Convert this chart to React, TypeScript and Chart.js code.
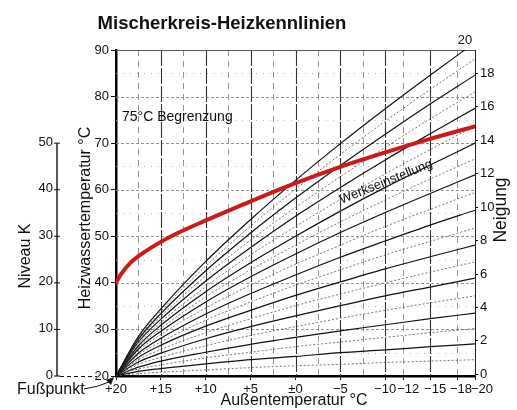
import React, { useEffect, useRef } from 'react';
import { Chart, registerables } from 'chart.js';

Chart.register(...registerables);

const FONT = '"Liberation Sans", Arial, Helvetica, sans-serif';

// Outside temperature sample points (°C) for the heating curves
const outsideTemps = [20, 17.5, 15, 10, 5, 0, -5, -10, -15, -20];

// Neigung (slope) of every heating curve
const neigungLevels = [1, 2, 3, 4, 5, 6, 7, 8, 9, 10, 11, 12, 13, 14, 15, 16, 17, 18, 19, 20];

// Heating water temperature (°C) of each curve at outsideTemps
const curveValues = [
  [20, 20.5, 20.8, 21.3, 21.8, 22.2, 22.5, 22.9, 23.2, 23.5],
  [20, 21.0, 21.6, 22.6, 23.5, 24.2, 25.0, 25.6, 26.3, 26.9],
  [20, 21.5, 22.4, 23.9, 25.1, 26.3, 27.3, 28.3, 29.3, 30.2],
  [20, 21.9, 23.2, 25.1, 26.8, 28.3, 29.7, 31.0, 32.3, 33.5],
  [20, 22.5, 24.0, 26.5, 28.7, 30.6, 32.4, 34.1, 35.7, 37.2],
  [20, 23.0, 24.9, 28.0, 30.6, 32.9, 35.1, 37.2, 39.1, 41.0],
  [20, 23.5, 25.7, 29.3, 32.3, 35.1, 37.6, 40.0, 42.3, 44.5],
  [20, 24.0, 26.6, 30.7, 34.1, 37.3, 40.2, 43.0, 45.6, 48.1],
  [20, 24.5, 27.3, 32.0, 35.9, 39.5, 42.8, 46.0, 48.9, 51.8],
  [20, 24.9, 28.1, 33.3, 37.7, 41.7, 45.5, 49.0, 52.4, 55.6],
  [20, 25.4, 28.9, 34.6, 39.5, 44.0, 48.1, 52.1, 55.8, 59.4],
  [20, 25.8, 29.6, 35.9, 41.3, 46.2, 50.8, 55.1, 59.2, 63.2],
  [20, 26.2, 30.2, 37.0, 42.8, 48.1, 53.1, 57.8, 62.3, 66.6],
  [20, 26.5, 30.9, 38.1, 44.3, 50.0, 55.4, 60.5, 65.3, 70.0],
  [20, 26.9, 31.5, 39.2, 46.0, 52.1, 57.9, 63.4, 68.6, 73.7],
  [20, 27.3, 32.2, 40.4, 47.6, 54.3, 60.5, 66.4, 72.0, 77.5],
  [20, 27.6, 32.8, 41.5, 49.2, 56.2, 62.8, 69.1, 75.2, 81.0],
  [20, 27.9, 33.4, 42.6, 50.7, 58.2, 65.2, 71.9, 78.4, 84.6],
  [20, 28.2, 33.9, 43.6, 52.2, 60.1, 67.6, 74.7, 81.5, 88.1],
  [20, 28.5, 34.4, 44.6, 53.6, 62.0, 69.9, 77.4, 84.6, 91.6],
];

// Factory setting curve (Werkseinstellung), red
const redTemps = [20, 19.5, 18.4, 17, 15, 13, 10, 5, 0, -5, -10, -15, -20];
const redValues = [40.0, 41.7, 44.3, 46.4, 48.8, 50.8, 53.4, 57.5, 61.4, 64.9, 68.0, 70.9, 73.6];

// Axis ticks
const xTickValues = [20, 15, 10, 5, 0, -5, -10, -12, -15, -18, -20];
const neigungTicks = [0, 2, 4, 6, 8, 10, 12, 14, 16, 18];
const neigungTopLabel = 20;
const niveauTicks = [0, 10, 20, 30, 40, 50];
const fusspunktTemp = 20;

// Grid lines
const gridXMajor = [15, 10, 5, 0, -5, -10, -15];
const gridXMinor = [17.5, 12.5, 7.5, 2.5, -2.5, -7.5, -12, -18];
const gridYMajor = [30, 40, 50, 60, 70, 80];
const gridYMinor = [25, 35, 45, 55, 65, 75, 85];

// small label nudges (style only) for the crowded x labels
const xLabelNudge: Record<string, number> = { '-12': 5, '-15': 5, '-18': 4, '-20': 7 };

const fmtX = (v: number) => (v > 0 ? '+' + v : v === 0 ? '±0' : '\u2212' + -v);

const decorPlugin = {
  id: 'decor',
  beforeDatasetsDraw(chart: any) {
    const { ctx, chartArea: a, scales } = chart;
    const xs = scales.x;
    const ys = scales.y;
    ctx.save();
    ctx.beginPath();
    ctx.rect(a.left, a.top, a.right - a.left, a.bottom - a.top);
    ctx.clip();
    const hline = (v: number, c: string, w: number, d: number[]) => {
      const p = Math.round(ys.getPixelForValue(v)) + 0.5;
      ctx.strokeStyle = c;
      ctx.lineWidth = w;
      ctx.setLineDash(d);
      ctx.beginPath();
      ctx.moveTo(a.left, p);
      ctx.lineTo(a.right, p);
      ctx.stroke();
    };
    const vline = (v: number, c: string, w: number, d: number[]) => {
      const p = Math.round(xs.getPixelForValue(v)) + 0.5;
      ctx.strokeStyle = c;
      ctx.lineWidth = w;
      ctx.setLineDash(d);
      ctx.beginPath();
      ctx.moveTo(p, a.top);
      ctx.lineTo(p, a.bottom);
      ctx.stroke();
    };
    gridYMinor.forEach((v) => hline(v, '#a8a8a8', 0.8, [1, 6]));
    gridYMajor.forEach((v) => hline(v, '#8a8a8a', 0.9, [3, 2]));
    gridXMinor.forEach((v) => vline(v, '#8a8a8a', 0.9, [6, 5]));
    gridXMajor.forEach((v) => vline(v, '#333333', 1.1, [16, 2]));
    ctx.restore();

    // top border
    ctx.save();
    ctx.strokeStyle = '#555';
    ctx.lineWidth = 1;
    ctx.beginPath();
    ctx.moveTo(a.left, a.top + 0.5);
    ctx.lineTo(a.right, a.top + 0.5);
    ctx.stroke();
    ctx.restore();
  },
  afterDraw(chart: any) {
    const { ctx, scales } = chart;
    const xs = scales.x;
    const ys = scales.y;
    const y2 = scales.y2;
    ctx.save();
    ctx.fillStyle = '#111';
    ctx.strokeStyle = '#111';

    // Title
    ctx.font = `bold 18.5px ${FONT}`;
    ctx.textAlign = 'center';
    ctx.textBaseline = 'alphabetic';
    ctx.fillText('Mischerkreis-Heizkennlinien', 222, 29);

    // x tick labels
    ctx.font = `13px ${FONT}`;
    ctx.textBaseline = 'middle';
    xTickValues.forEach((v) => {
      const px = xs.getPixelForValue(v) + (xLabelNudge[String(v)] || 0);
      ctx.fillText(fmtX(v), px, 389);
    });

    // x title
    ctx.font = `16px ${FONT}`;
    ctx.textBaseline = 'alphabetic';
    ctx.fillText('Außentemperatur °C', 294, 405);

    // Neigung top label (end of curve 20)
    ctx.font = `13px ${FONT}`;
    ctx.textBaseline = 'middle';
    ctx.fillText(String(neigungTopLabel), 465, y2.getPixelForValue(neigungTopLabel));

    // Rotated axis titles
    const rot = (text: string, x: number, y: number, size: number) => {
      ctx.save();
      ctx.translate(x, y);
      ctx.rotate(-Math.PI / 2);
      ctx.font = `${size}px ${FONT}`;
      ctx.textAlign = 'center';
      ctx.textBaseline = 'alphabetic';
      ctx.fillText(text, 0, 0);
      ctx.restore();
    };
    rot('Heizwassertemperatur °C', 90, 218, 16);
    rot('Niveau K', 30, 256, 16);
    rot('Neigung', 506, 210, 17.5);

    // Niveau K axis
    const nx = 57;
    const top = ys.getPixelForValue(fusspunktTemp + niveauTicks[niveauTicks.length - 1]);
    const bot = ys.getPixelForValue(fusspunktTemp + niveauTicks[0]);
    ctx.lineWidth = 1.4;
    ctx.setLineDash([]);
    ctx.beginPath();
    ctx.moveTo(nx, top);
    ctx.lineTo(nx, bot);
    ctx.stroke();
    ctx.font = `13px ${FONT}`;
    ctx.textAlign = 'right';
    ctx.textBaseline = 'middle';
    niveauTicks.forEach((v) => {
      const py = ys.getPixelForValue(fusspunktTemp + v);
      ctx.lineWidth = 1;
      ctx.beginPath();
      ctx.moveTo(nx - 3, py);
      ctx.lineTo(nx + 3, py);
      ctx.stroke();
      ctx.fillText(String(v), nx - 4, py - 1);
    });

    // dashed Fußpunkt reference line
    ctx.lineWidth = 1;
    ctx.setLineDash([4, 3]);
    ctx.beginPath();
    ctx.moveTo(nx + 3, bot + 0.5);
    ctx.lineTo(97, bot + 0.5);
    ctx.stroke();
    ctx.setLineDash([]);

    // Fußpunkt label with leader arrow
    ctx.font = `16px ${FONT}`;
    ctx.textAlign = 'left';
    ctx.textBaseline = 'alphabetic';
    ctx.fillText('Fußpunkt', 17, 394);
    const fx = xs.getPixelForValue(outsideTemps[0]);
    const fy = ys.getPixelForValue(fusspunktTemp);
    ctx.lineWidth = 1;
    ctx.beginPath();
    ctx.moveTo(84, 389);
    ctx.quadraticCurveTo(98, 387, fx - 7, fy + 6);
    ctx.stroke();
    ctx.beginPath();
    ctx.moveTo(fx - 2, fy + 1);
    ctx.lineTo(fx - 10, fy + 4);
    ctx.lineTo(fx - 5, fy + 9);
    ctx.closePath();
    ctx.fill();

    // annotations
    ctx.font = `14px ${FONT}`;
    ctx.fillText('75°C Begrenzung', 122, 121);

    ctx.save();
    ctx.translate(386, 182);
    ctx.rotate((-22 * Math.PI) / 180);
    ctx.font = `13px ${FONT}`;
    ctx.textAlign = 'center';
    ctx.textBaseline = 'middle';
    ctx.fillText('Werkseinstellung', 0, 0);
    ctx.restore();

    ctx.restore();
  },
};

export default function App() {
  const ref = useRef<HTMLCanvasElement | null>(null);
  useEffect(() => {
    if (!ref.current) return;
    const curveSets = curveValues.map((vals, i) => {
      const n = neigungLevels[i];
      const even = n % 2 === 0;
      return {
        label: 'Neigung ' + n,
        data: outsideTemps.map((t, j) => ({ x: t, y: vals[j] })),
        borderColor: even ? '#111111' : '#555555',
        borderWidth: even ? 1.2 : 0.8,
        borderDash: even ? [] : [2, 2],
        pointRadius: 0,
        cubicInterpolationMode: 'monotone',
        fill: false,
        order: 1,
      };
    });
    const redSet = {
      label: 'Werkseinstellung',
      data: redTemps.map((t, j) => ({ x: t, y: redValues[j] })),
      borderColor: '#cc1a1a',
      borderWidth: 4,
      borderCapStyle: 'round',
      pointRadius: 0,
      cubicInterpolationMode: 'monotone',
      fill: false,
      order: 0,
    };
    const chart = new Chart(ref.current, {
      type: 'line',
      data: { datasets: [redSet, ...curveSets] as any },
      options: {
        animation: false,
        responsive: false,
        devicePixelRatio: 1,
        layout: { padding: { left: 0, right: 0, top: 50, bottom: 0 } },
        plugins: { legend: { display: false }, tooltip: { enabled: false }, title: { display: false } },
        scales: {
          x: {
            type: 'linear',
            min: -20,
            max: 20,
            reverse: true,
            afterBuildTicks: (s: any) => {
              s.ticks = xTickValues.map((v) => ({ value: v }));
            },
            afterFit: (s: any) => {
              s.height = 34;
            },
            ticks: { display: false },
            grid: { drawOnChartArea: false, drawTicks: true, tickLength: 4, color: '#222', lineWidth: 1 },
            border: { display: true, color: '#000', width: 2.5 },
          },
          y: {
            type: 'linear',
            position: 'left',
            min: 20,
            max: 90,
            ticks: { stepSize: 10, padding: 2, color: '#111', font: { family: FONT, size: 13 } },
            afterFit: (s: any) => {
              s.width = 116;
            },
            grid: { drawOnChartArea: false, drawTicks: true, tickLength: 5, color: '#111', lineWidth: 1 },
            border: { display: true, color: '#000', width: 2.5 },
          },
          y2: {
            type: 'linear',
            position: 'right',
            min: -0.1,
            max: 19.4,
            afterBuildTicks: (s: any) => {
              s.ticks = neigungTicks.map((v) => ({ value: v }));
            },
            afterFit: (s: any) => {
              s.width = 42;
            },
            ticks: { padding: 2, color: '#111', font: { family: FONT, size: 13 } },
            grid: { drawOnChartArea: false, drawTicks: true, tickLength: 3, color: '#111', lineWidth: 1 },
            border: { display: true, color: '#222', width: 1 },
          },
        },
      },
      plugins: [decorPlugin],
    } as any);
    return () => chart.destroy();
  }, []);
  return (
    <div style={{ position: 'absolute', left: 0, top: 0, width: 517, height: 410, background: '#fff' }}>
      <canvas ref={ref} width={517} height={410} />
    </div>
  );
}
